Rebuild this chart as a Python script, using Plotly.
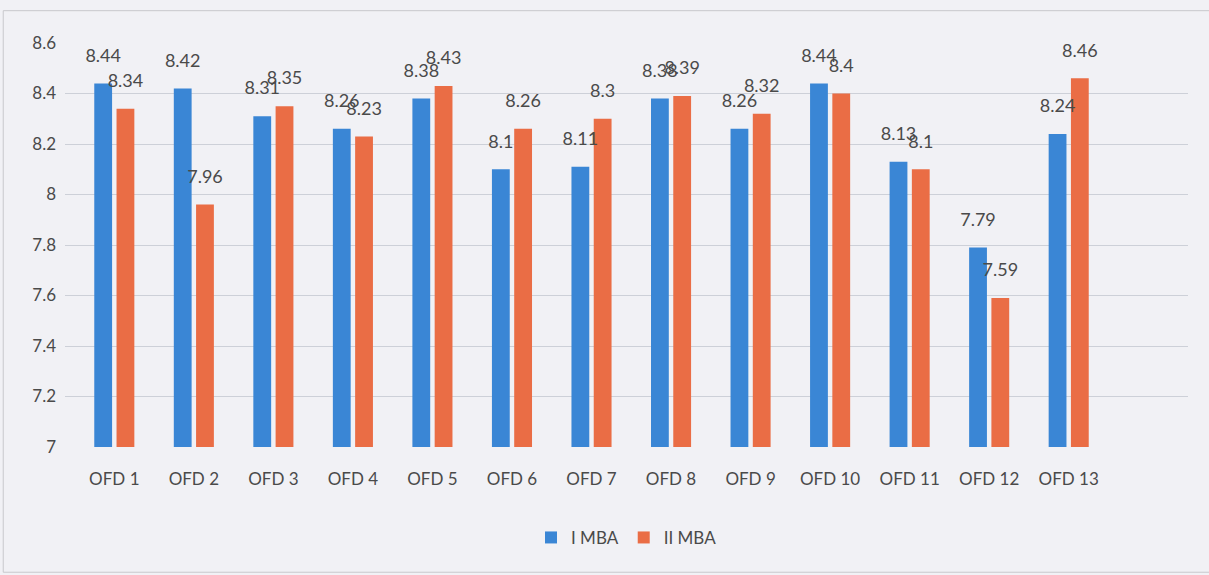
import plotly.graph_objects as go

categories = ["OFD 1", "OFD 2", "OFD 3", "OFD 4", "OFD 5", "OFD 6", "OFD 7",
              "OFD 8", "OFD 9", "OFD 10", "OFD 11", "OFD 12", "OFD 13"]
i_mba = [8.44, 8.42, 8.31, 8.26, 8.38, 8.1, 8.11, 8.38, 8.26, 8.44, 8.13, 7.79, 8.24]
ii_mba = [8.34, 7.96, 8.35, 8.23, 8.43, 8.26, 8.3, 8.39, 8.32, 8.4, 8.1, 7.59, 8.46]
y_ticks = [7, 7.2, 7.4, 7.6, 7.8, 8, 8.2, 8.4, 8.6]
y_ticktext = ["7", "7.2", "7.4", "7.6", "7.8", "8", "8.2", "8.4", "8.6"]

FONT = "Lato, Liberation Sans, sans-serif"
LABEL_COLOR = "#4a4a4a"

fig = go.Figure()
series = [("I MBA", i_mba, "#3a86d5"), ("II MBA", ii_mba, "#ea6d45")]
for name, vals, color in series:
    fig.add_trace(go.Bar(
        name=name, x=categories, y=vals, base=0, offsetgroup=name,
        marker=dict(color=color, line=dict(width=0)),
    ))
for name, vals, color in series:
    fig.add_trace(go.Scatter(
        name=name + " labels", x=categories, y=vals, offsetgroup=name,
        mode="markers+text", text=[str(v) for v in vals], textposition="top center",
        marker=dict(size=26, color="rgba(0,0,0,0)"),
        textfont=dict(family=FONT, size=18, color=LABEL_COLOR),
        showlegend=False, hoverinfo="skip", cliponaxis=False,
    ))

fig.update_layout(
    width=1209, height=575,
    margin=dict(l=65, r=21, t=43, b=128),
    paper_bgcolor="#f1f1f5", plot_bgcolor="#f1f1f5",
    barmode="group", bargap=0.44, bargroupgap=0.2,
    scattermode="group", scattergap=0.44,
    font=dict(family=FONT, size=17, color=LABEL_COLOR),
    showlegend=True,
    legend=dict(orientation="h", x=0.5, xanchor="center", y=-0.225, yanchor="middle",
                font=dict(family=FONT, size=17, color=LABEL_COLOR),
                bgcolor="rgba(0,0,0,0)", itemwidth=30),
)
fig.update_xaxes(range=[-0.62, 13.5], showgrid=False, showline=False, zeroline=False,
                 ticks="", ticklabelstandoff=20,
                 tickfont=dict(family=FONT, size=17, color=LABEL_COLOR))
fig.update_yaxes(range=[7, 8.6], tickvals=y_ticks, ticktext=y_ticktext,
                 showgrid=True, gridcolor="#cdd0d8", gridwidth=1,
                 zeroline=False, showline=False, ticks="", ticklabelstandoff=8,
                 tickfont=dict(family=FONT, size=17, color=LABEL_COLOR))

# chart-area border
fig.add_shape(type="rect", xref="paper", yref="paper", x0=-0.055, x1=1.05, y0=-0.31, y1=1.08,
              line=dict(color="#c8c8cc", width=1), fillcolor="rgba(0,0,0,0)", layer="below")

fig.write_html("out.html")
